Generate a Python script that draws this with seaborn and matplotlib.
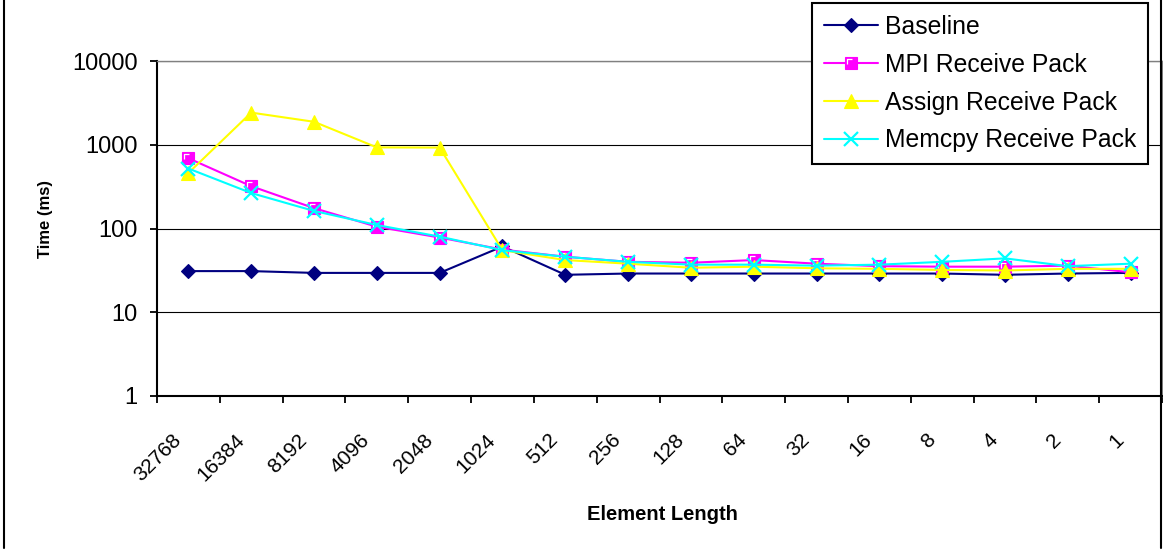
import numpy as np
import pandas as pd
import matplotlib
matplotlib.use("Agg")
import matplotlib.pyplot as plt
import matplotlib.transforms as mtransforms
from matplotlib.lines import Line2D
from matplotlib.path import Path
from matplotlib.legend_handler import HandlerTuple
from matplotlib.ticker import NullLocator
import seaborn as sns

# Element lengths (categories along the x axis)
element_lengths = ["32768", "16384", "8192", "4096", "2048", "1024", "512", "256",
                   "128", "64", "32", "16", "8", "4", "2", "1"]

# Time in ms for each series
baseline = [31, 31, 29.5, 29.5, 29.5, 61, 28, 29, 29, 29, 29, 29, 29, 28, 29, 29.5]
mpi_receive_pack = [690, 320, 175, 105, 78, 56, 46, 40, 39, 42, 38, 35.5, 35, 35, 36, 30]
assign_receive_pack = [460, 2420, 1880, 930, 925, 55, 42, 38, 34, 35, 33.5, 33, 32, 31.5, 33, 33]
memcpy_receive_pack = [520, 265, 162, 110, 80, 55, 46, 40, 37, 37, 36, 37, 40, 44, 35.5, 38]

series_names = ["Baseline", "MPI Receive Pack", "Assign Receive Pack", "Memcpy Receive Pack"]
y_ticks = [1, 10, 100, 1000, 10000]

sns.set_theme(style="white")
plt.rcParams["font.family"] = ["Liberation Sans", "DejaVu Sans"]

pos = np.arange(len(element_lengths))
df = pd.DataFrame({
    "pos": np.tile(pos, len(series_names)),
    "time": np.concatenate([baseline, mpi_receive_pack, assign_receive_pack, memcpy_receive_pack]),
    "series": np.repeat(series_names, len(pos)),
})

W, H = 1163, 550
fig = plt.figure(figsize=(W / 100, H / 100), dpi=100)
fig.patch.set_facecolor("white")
ax = fig.add_axes([157 / W, 1 - 396 / H, 1005 / W, 335 / H])

styles = {
    "Baseline": dict(color="#000080", marker="D", ms=7.0, mew=0.8),
    "MPI Receive Pack": dict(color="#FF00FF", marker="s", ms=8.3, mew=0.8),
    "Assign Receive Pack": dict(color="#FFFF00", marker="^", ms=10.5, mew=0.8),
    "Memcpy Receive Pack": dict(color="#00FFFF", marker="x", ms=9.5, mew=1.6),
}

# white corner highlight drawn inside the square markers
corner = Path([(-1, -0.2), (-1, 1), (0.2, 1)], [Path.MOVETO, Path.LINETO, Path.LINETO])

handles = []
for i, name in enumerate(series_names):
    st = styles[name]
    sub = df[df["series"] == name]
    sns.lineplot(data=sub, x="pos", y="time", ax=ax, color=st["color"],
                 marker=st["marker"], markersize=st["ms"], markeredgewidth=st["mew"],
                 markeredgecolor=st["color"], markerfacecolor=st["color"],
                 linewidth=1.5, label=name, legend=False, zorder=3 + i)
    line = ax.lines[-1]
    if name == "MPI Receive Pack":
        ax.plot(sub["pos"], sub["time"], linestyle="none", marker=corner, markersize=6.0,
                markerfacecolor="none", markeredgecolor="white", markeredgewidth=0.9,
                zorder=3 + i + 0.5)
        hl = Line2D([], [], linestyle="none", marker=corner, markersize=6.0,
                    markerfacecolor="none", markeredgecolor="white", markeredgewidth=0.9)
        handles.append((line, hl))
    else:
        handles.append(line)

ax.set_yscale("log")
ax.set_ylim(1, 10000)
ax.set_xlim(-0.5, len(element_lengths) - 0.5)

ax.set_yticks(y_ticks)
ax.set_yticklabels([str(v) for v in y_ticks])
ax.yaxis.set_minor_locator(NullLocator())

ax.set_xticks(pos)
ax.set_xticklabels(element_lengths)
ax.set_xticks(np.arange(-0.5, len(element_lengths), 1.0), minor=True)

ax.tick_params(axis="y", which="major", direction="out", length=5, width=1.3,
               color="black", pad=9, labelsize=17, labelcolor="black", left=True)
ax.tick_params(axis="x", which="major", length=0, pad=29.5, labelsize=15,
               labelcolor="black", bottom=True)
ax.tick_params(axis="x", which="minor", direction="out", length=5, width=1.3,
               color="black", bottom=True)

shift = mtransforms.ScaledTranslation(-0.10, 0, fig.dpi_scale_trans)
for lab in ax.get_xticklabels():
    lab.set_rotation(45)
    lab.set_ha("right")
    lab.set_va("center")
    lab.set_rotation_mode("anchor")
    lab.set_transform(lab.get_transform() + shift)

ax.yaxis.grid(True, which="major", color="black", linewidth=0.8)
ax.xaxis.grid(False)
ax.set_axisbelow(True)

for side in ("left", "bottom"):
    ax.spines[side].set_color("black")
    ax.spines[side].set_linewidth(1.5)
for side in ("top", "right"):
    ax.spines[side].set_color("#808080")
    ax.spines[side].set_linewidth(1.0)
    ax.spines[side].set_visible(True)

ax.set_xlabel("Element Length", fontsize=14.5, fontweight="bold", color="black")
ax.xaxis.set_label_coords(0.5025, -0.355)
ax.xaxis.label.set_va("center")
ax.set_ylabel("Time (ms)", fontsize=12, fontweight="bold", color="black")
ax.yaxis.set_label_coords(-0.1114, 0.528)
ax.yaxis.label.set_va("center")

leg = ax.legend(handles, series_names, loc="upper left",
                bbox_to_anchor=(812 / W, 1 - 3 / H), bbox_transform=fig.transFigure,
                borderaxespad=0, frameon=True, fancybox=False, shadow=False,
                framealpha=1, facecolor="white", edgecolor="black", fontsize=17.8,
                handlelength=2.2, handletextpad=0.28, labelspacing=0.56, borderpad=0.48,
                handler_map={tuple: HandlerTuple(ndivide=1, pad=0)})
leg.get_frame().set_linewidth(1.5)
leg.set_zorder(10)
for t in leg.get_texts():
    t.set_color("black")

# outer chart border
for xpix in (4, 1161):
    fig.add_artist(Line2D([xpix / W, xpix / W], [2 / H, 1.0], transform=fig.transFigure,
                          color="black", linewidth=1.5))

fig.savefig("out.png", dpi=100, facecolor="white")
